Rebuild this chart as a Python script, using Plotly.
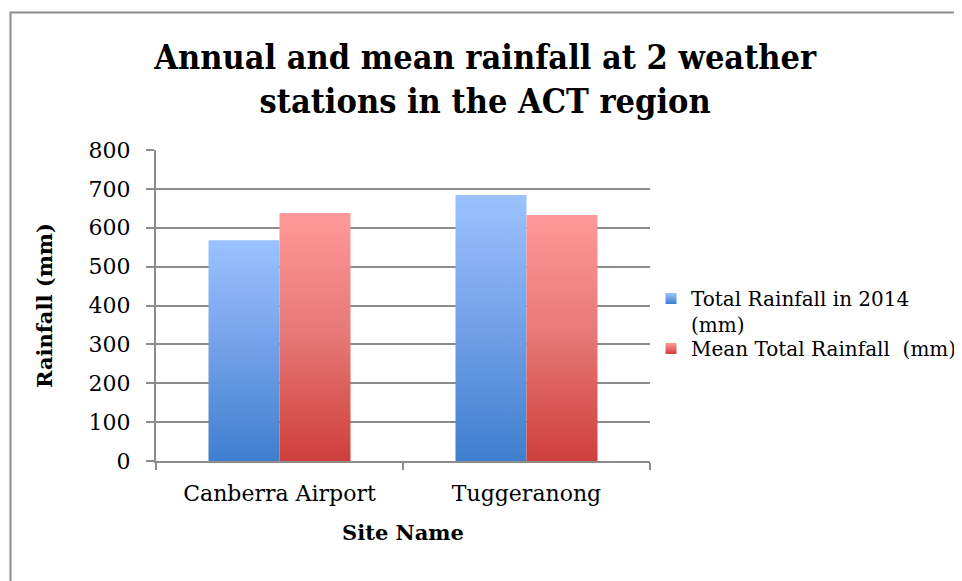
import plotly.graph_objects as go

categories = ["Canberra Airport", "Tuggeranong"]
total_2014 = [568, 684]
mean_total = [638, 633]
series_names = ["Total Rainfall in 2014<br>(mm)", "Mean Total Rainfall  (mm)"]
y_ticks = [0, 100, 200, 300, 400, 500, 600, 700, 800]

series_values = [total_2014, mean_total]
grad_scales = [
    [[0, "#3e7fcd"], [0.5, "#72a0e8"], [1, "#9cc2ff"]],
    [[0, "#cf3f3b"], [0.5, "#e67774"], [1, "#ff9999"]],
]
legend_colors = [("#9cc2ff", "#3e7fcd"), ("#ff9999", "#cf3f3b")]
legend_ids = ["legend", "legend2"]
legend_tops = [271, 321]

BAR_W = 0.2875
SERIF = "DejaVu Serif"
# page body adds an 8px offset; plot area in figure pixels
L, T, PW, PH = 148, 142, 494, 311

fig = go.Figure()
for k, (vals, cs) in enumerate(zip(series_values, grad_scales)):
    for i, v in enumerate(vals):
        x0 = i + 0.5 + (k - 1) * BAR_W
        x1 = x0 + BAR_W
        fig.add_trace(go.Scatter(
            x=[x0, x0, x1, x1, x0], y=[0, v, v, 0, 0],
            mode="lines", fill="toself", line=dict(width=0),
            fillgradient=dict(type="vertical", colorscale=cs),
            showlegend=False, hoverinfo="skip",
        ))
for name, (top, bot), lid in zip(series_names, legend_colors, legend_ids):
    fig.add_trace(go.Scatter(
        x=[None], y=[None], mode="markers", name=name, legend=lid,
        marker=dict(symbol="square", size=11, color=top,
                    gradient=dict(type="vertical", color=bot), line=dict(width=0)),
    ))

legend_common = dict(
    xref="container", yref="container", xanchor="left", yanchor="top", valign="top",
    font=dict(size=20), bgcolor="rgba(0,0,0,0)", itemwidth=30, tracegroupgap=0,
)

fig.update_layout(
    width=962, height=581,
    margin=dict(l=L, r=962 - L - PW, t=T, b=581 - T - PH, autoexpand=False),
    paper_bgcolor="white", plot_bgcolor="white",
    font=dict(family=SERIF, color="black", size=22),
    title=dict(
        text="<b>Annual and mean rainfall at 2 weather<br>stations in the ACT region</b>",
        font=dict(family="DejaVu Serif Condensed", size=34, color="black"),
        x=0.496, xanchor="center", xref="container",
        y=1 - 61 / 581, yanchor="top", yref="container",
    ),
    xaxis=dict(
        range=[0, len(categories)], showgrid=False, zeroline=False,
        tickmode="array", tickvals=[i + 0.5 for i in range(len(categories))],
        ticktext=categories, ticks="", ticklabelstandoff=12,
        showline=True, linecolor="#8c8c8c", linewidth=2,
        minor=dict(tickmode="array", tickvals=list(range(len(categories) + 1)),
                   ticks="outside", ticklen=7, tickcolor="#8c8c8c", tickwidth=2),
        title=dict(text="<b>Site Name</b>", font=dict(size=21), standoff=20),
        fixedrange=True,
    ),
    yaxis=dict(
        range=[0, 800], tickmode="array", tickvals=y_ticks,
        showgrid=True, gridcolor="#8c8c8c", gridwidth=1.5, zeroline=False,
        showline=True, linecolor="#8c8c8c", linewidth=2,
        ticks="outside", ticklen=8, tickcolor="#8c8c8c", tickwidth=2,
        ticklabelstandoff=11,
        title=dict(text="<b>Rainfall (mm)</b>", font=dict(size=21), standoff=30),
        fixedrange=True,
    ),
    legend=dict(x=643 / 962, y=1 - legend_tops[0] / 581, **legend_common),
    legend2=dict(x=643 / 962, y=1 - legend_tops[1] / 581, **legend_common),
    shapes=[dict(
        type="rect", xref="paper", yref="paper",
        x0=(2.5 - L) / PW, x1=1.8, y0=-0.6, y1=(T + PH - 4.5) / PH,
        line=dict(color="#8c8c8c", width=2), fillcolor="rgba(0,0,0,0)", layer="below",
    )],
)

fig.write_html("out.html")
